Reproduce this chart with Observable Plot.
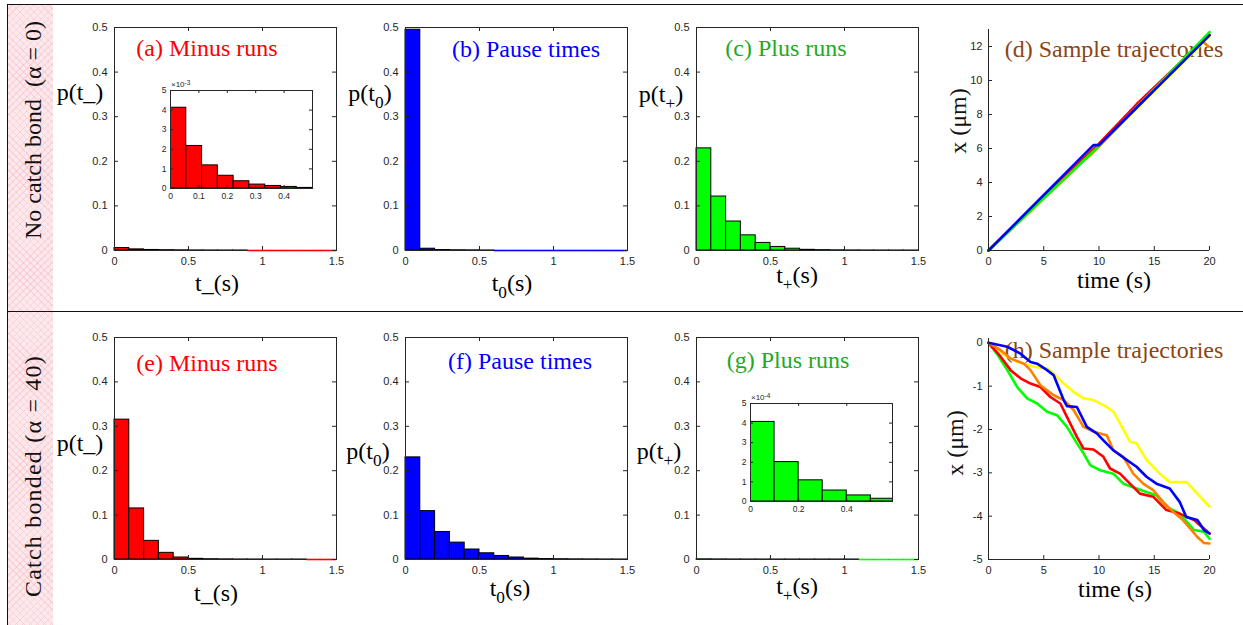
<!DOCTYPE html>
<html><head><meta charset="utf-8">
<script src="https://cdn.jsdelivr.net/npm/d3@7"></script>
<script src="https://cdn.jsdelivr.net/npm/@observablehq/plot@0.6"></script>
<style>
body{margin:0;background:#fff;}
#fig{position:relative;width:1243px;height:625px;overflow:hidden;background:#fff;font-family:"Liberation Serif","Times New Roman",serif;}
.lbl{position:absolute;transform:translate(-50%,-50%);white-space:pre;font-size:24px;line-height:1;color:#000;}
.sub{font-size:0.72em;position:relative;top:0.38em;line-height:0;}
.rot{position:absolute;transform:translate(-50%,-50%) rotate(-90deg);white-space:pre;font-size:24px;line-height:1;color:#111;}
.exp{position:absolute;font-family:"Liberation Sans",Arial,sans-serif;font-size:8px;color:#262626;line-height:1;white-space:pre;}
.exp sup{font-size:0.8em;position:relative;top:-0.35em;vertical-align:baseline;}
</style></head><body><div id="fig"></div>
<script>
// ---------- data ----------
const binStarts = [0,0.1,0.2,0.3,0.4,0.5,0.6,0.7,0.8,0.9,1.0,1.1,1.2,1.3,1.4];
const binWidth = 0.1;
const histXTicks = [0,0.5,1,1.5];
const histYTicks = [0,0.1,0.2,0.3,0.4,0.5];
// row 1: no catch bond
const minusNoCatch = [0.0055,0.0025,0.0012,0.0007,0.0004,0.0002,0.0001,0.00005,0.00003,0,0,0,0,0,0];
const pauseNoCatch = [0.495,0.004,0.001,0.0005,0.0003,0.0001,0,0,0,0,0,0,0,0,0];
const plusNoCatch  = [0.229,0.121,0.065,0.034,0.017,0.008,0.004,0.0015,0.0008,0.0004,0.0002,0.0001,0.00005,0.00003,0.00001];
// row 2: catch bonded
const minusCatch = [0.315,0.115,0.042,0.015,0.0045,0.0015,0.0006,0.0003,0.0001,0.00005,0.00002,0.00001,0.00001,0,0];
const pauseCatch = [0.23,0.109,0.062,0.038,0.0225,0.014,0.008,0.0045,0.002,0.001,0.0006,0.0003,0.0002,0.0001,0.00005];
const plusCatch  = [0.000406,0.000201,0.000108,0.000056,0.000031,0.000014,0.000007,0.000003,0.000002,0.000001,0.0000005,0,0,0,0];
// insets
const insetMinusStarts = [0,0.0556,0.1111,0.1667,0.2222,0.2778,0.3333,0.3889,0.4444];
const insetMinusWidth = 0.0556;
const insetMinusValues = [4.12,2.17,1.18,0.65,0.37,0.2,0.13,0.08,0.03]; // x10^-3
const insetMinusXTicks = [0,0.1,0.2,0.3,0.4];
const insetPlusStarts = [0,0.1,0.2,0.3,0.4,0.5];
const insetPlusValues = [4.06,2.01,1.08,0.56,0.31,0.14]; // x10^-4
const insetPlusXTicks = [0,0.2,0.4];
const insetYTicks = [0,1,2,3,4,5];
// trajectories (time s, x um)
const dYellow = [[0,0],[9.3,5.85],[9.7,5.95],[20,12.6]];
const dOrange = [[0,0],[8.9,5.45],[9.3,5.65],[13.5,8.45],[19.3,12.35],[19.9,12.0]];
const dRed    = [[0,0],[9.8,6.15],[13.4,8.6],[20,12.7]];
const dGreen  = [[0,0],[10,6.15],[20,12.85]];
const dBlue   = [[0,0],[9.5,6.2],[10,6.2],[20,12.65]];
const hBlue = [[0,0],[1.7,-0.09],[2.9,-0.25],[3.8,-0.44],[4.4,-0.48],[5.3,-0.63],[5.9,-0.75],[6.8,-1.32],[7.1,-1.46],[8,-1.48],[8.9,-1.94],[9.8,-2.09],[10.4,-2.25],[11.3,-2.48],[12.5,-2.7],[13.4,-2.86],[14.3,-3.09],[15.2,-3.25],[16.4,-3.36],[17.3,-3.67],[17.9,-4.02],[18.9,-4.09],[19.5,-4.32],[20,-4.4]];
const hYellow = [[0,0],[1.7,-0.32],[2.6,-0.44],[4.1,-0.55],[5.3,-0.59],[5.9,-0.71],[6.8,-0.94],[7.7,-1.13],[8.6,-1.28],[9.5,-1.32],[10.7,-1.48],[11.3,-1.59],[11.9,-1.86],[12.8,-2.28],[13.4,-2.32],[14.3,-2.7],[15.5,-3.02],[16.4,-3.21],[17.9,-3.21],[18.9,-3.48],[20,-3.78]];
const hOrange = [[0,0],[1.1,-0.17],[2,-0.36],[3.2,-0.48],[3.8,-0.63],[4.7,-0.98],[5.9,-1.21],[6.8,-1.32],[7.7,-1.55],[8.6,-1.94],[9.5,-2.05],[10.7,-2.13],[11.3,-2.48],[12.2,-2.63],[13.1,-3.02],[14,-3.25],[14.9,-3.4],[15.8,-3.67],[16.7,-3.9],[17.6,-4.09],[18.9,-4.48],[19.5,-4.62],[20,-4.63]];
const hRed = [[0,0],[1.1,-0.32],[2,-0.63],[2.9,-0.82],[3.8,-0.94],[4.7,-1.02],[5.6,-1.25],[6.5,-1.4],[7.1,-1.71],[8,-2.17],[8.6,-2.44],[9.5,-2.46],[10.4,-2.63],[11,-2.9],[11.9,-3.02],[12.8,-3.25],[13.7,-3.48],[14.9,-3.55],[16.1,-3.86],[17.3,-3.94],[18.6,-4.09],[20,-4.4]];
const hGreen = [[0,0],[0.75,-0.25],[1.7,-0.63],[2.6,-1.02],[3.5,-1.28],[4.4,-1.4],[5.3,-1.59],[6.2,-1.67],[7.1,-1.94],[8,-2.32],[8.6,-2.55],[9.2,-2.82],[10.1,-2.94],[11.3,-3.02],[12.2,-3.25],[13.4,-3.36],[14.3,-3.44],[15.2,-3.52],[16.1,-3.78],[17.3,-3.94],[18.6,-4.32],[19.5,-4.36],[20,-4.52]];
const trajXTicks = [0,5,10,15,20];
const dYTicks = [0,2,4,6,8,10,12];
const hYTicks = [-5,-4,-3,-2,-1,0];

// ---------- styles ----------
const RED="#ff0000", BLUE="#0000ff", GREEN="#00ff00", ORANGE="#ff8000", YELLOW="#ffff00";
const axisCol = "#262626";
const fig = document.getElementById("fig");
const fmt = d => String(d);

function el(html, cls, x, y) {
  const d = document.createElement("div");
  d.className = cls; d.innerHTML = html;
  d.style.left = x + "px"; d.style.top = y + "px";
  fig.appendChild(d); return d;
}
function place(svg, x, y) {
  svg.style.position = "absolute"; svg.style.left = x + "px"; svg.style.top = y + "px";
  fig.appendChild(svg);
}
function inTicks(xt, yt, W, H, box, len) {
  const m = [
    Plot.tickX(xt, {x: d => d, insetTop: H - len, stroke: axisCol}),
    Plot.tickY(yt, {y: d => d, insetRight: W - len, stroke: axisCol})
  ];
  if (box) m.push(
    Plot.tickX(xt, {x: d => d, insetBottom: H - len, stroke: axisCol}),
    Plot.tickY(yt, {y: d => d, insetLeft: W - len, stroke: axisCol})
  );
  return m;
}
function bins(starts, width, values) {
  return starts.map((s, i) => ({s, e: s + width, v: values[i]}));
}
const baseStyle = {fontFamily: "'Liberation Sans', Arial, sans-serif", fontSize: "11px", color: axisCol, background: "transparent", overflow: "visible"};

function histPanel(values, color, fl, ft, fr, fb) {
  const mL = 40, mR = 8, mT = 8, mB = 26;
  const W = fr - fl, H = fb - ft;
  const data = bins(binStarts, binWidth, values);
  const p = Plot.plot({
    width: W + mL + mR, height: H + mT + mB,
    marginLeft: mL, marginRight: mR, marginTop: mT, marginBottom: mB,
    x: {domain: [0, 1.5], ticks: histXTicks, tickFormat: fmt, tickSize: 0, tickPadding: 7, label: null},
    y: {domain: [0, 0.5], ticks: histYTicks, tickFormat: fmt, tickSize: 0, tickPadding: 7, label: null},
    style: baseStyle,
    marks: [
      Plot.rect(data, {filter: d => d.v > 0, x1: "s", x2: "e", y1: () => 0, y2: "v", fill: color, stroke: "black", strokeWidth: 1}),
      Plot.frame({stroke: axisCol}),
      Plot.ruleY(data, {filter: d => d.v === 0, x1: "s", x2: "e", y: () => 0, stroke: color, strokeWidth: 1.6}),
      ...inTicks(histXTicks, histYTicks, W, H, true, 4)
    ]
  });
  place(p, fl - mL, ft - mT);
}
function insetPanel(starts, width, values, color, xdom, xticks, fl, ft, fr, fb) {
  const mL = 16, mR = 4, mT = 10, mB = 16;
  const W = fr - fl, H = fb - ft;
  const data = bins(starts, width, values);
  const p = Plot.plot({
    width: W + mL + mR, height: H + mT + mB,
    marginLeft: mL, marginRight: mR, marginTop: mT, marginBottom: mB,
    x: {domain: xdom, ticks: xticks, tickFormat: fmt, tickSize: 0, tickPadding: 4, label: null},
    y: {domain: [0, 5], ticks: insetYTicks, tickFormat: fmt, tickSize: 0, tickPadding: 4, label: null},
    style: {...baseStyle, fontSize: "8.5px"},
    marks: [
      Plot.frame({fill: "white"}),
      Plot.rect(data, {x1: "s", x2: "e", y1: () => 0, y2: "v", fill: color, stroke: "black", strokeWidth: 1, clip: true}),
      Plot.frame({stroke: axisCol}),
      ...inTicks(xticks, insetYTicks, W, H, true, 3)
    ]
  });
  place(p, fl - mL, ft - mT);
}
function trajPanel(lines, ydom, yticks, fl, ft, fr, fb) {
  const mL = 34, mR = 8, mT = 8, mB = 26;
  const W = fr - fl, H = fb - ft;
  const p = Plot.plot({
    width: W + mL + mR, height: H + mT + mB,
    marginLeft: mL, marginRight: mR, marginTop: mT, marginBottom: mB,
    x: {domain: [0, 20], ticks: trajXTicks, tickFormat: fmt, tickSize: 0, tickPadding: 7, label: null},
    y: {domain: ydom, ticks: yticks, tickFormat: fmt, tickSize: 0, tickPadding: 6, label: null},
    style: baseStyle,
    marks: [
      ...lines.map(([pts, c]) => Plot.line(pts, {x: d => d[0], y: d => d[1], stroke: c, strokeWidth: 2.6, strokeLinejoin: "round"})),
      Plot.ruleX([0], {stroke: axisCol}),
      Plot.ruleY([ydom[0]], {stroke: axisCol}),
      ...inTicks(trajXTicks, yticks, W, H, false, 4)
    ]
  });
  place(p, fl - mL, ft - mT);
}

// ---------- frame / strip ----------
const strip = document.createElement("div");
Object.assign(strip.style, {position: "absolute", left: "8px", top: "5px", width: "45px", height: "625px",
  background: "repeating-linear-gradient(45deg, rgba(240,160,175,0.28) 0 1px, transparent 1px 5px), repeating-linear-gradient(-45deg, rgba(240,160,175,0.28) 0 1px, transparent 1px 5px), #fde8eb"});
fig.appendChild(strip);
const border = document.createElement("div");
Object.assign(border.style, {position: "absolute", left: "7px", top: "4px", width: "1250px", height: "700px", borderLeft: "1.5px solid #111", borderTop: "1.5px solid #111"});
fig.appendChild(border);
const divider = document.createElement("div");
Object.assign(divider.style, {position: "absolute", left: "7px", top: "311px", width: "1250px", height: "0", borderTop: "1.5px solid #111"});
fig.appendChild(divider);

el("No catch bond  (α = 0)", "rot", 33, 130);
el("Catch bonded (α = 40)", "rot", 33, 476).style.letterSpacing = "1.2px";

// ---------- row 1 ----------
histPanel(minusNoCatch, RED, 114, 27, 336, 250);
histPanel(pauseNoCatch, BLUE, 405, 27, 627, 250);
histPanel(plusNoCatch, GREEN, 696, 27, 918, 250);
el("(d) Sample trajectories", "lbl", 1114, 49).style.color = "#8b4513";
trajPanel([[dYellow, YELLOW], [dOrange, ORANGE], [dRed, RED], [dGreen, GREEN], [dBlue, BLUE]], [0, 13], dYTicks, 988, 29, 1209, 250);
insetPanel(insetMinusStarts, insetMinusWidth, insetMinusValues, RED, [0, 0.5], insetMinusXTicks, 170, 90, 312, 188);
el("×10<sup>-3</sup>", "exp", 171, 81);

// ---------- row 2 ----------
histPanel(minusCatch, RED, 114, 337, 336, 559);
histPanel(pauseCatch, BLUE, 405, 337, 627, 559);
histPanel(plusCatch, GREEN, 696, 337, 918, 559);
el("(h) Sample trajectories", "lbl", 1114, 350).style.color = "#8b4513";
trajPanel([[hYellow, YELLOW], [hGreen, GREEN], [hRed, RED], [hOrange, ORANGE], [hBlue, BLUE]], [-5, 0.1], hYTicks, 988, 338, 1209, 559);
insetPanel(insetPlusStarts, 0.1, insetPlusValues, GREEN, [0, 0.59], insetPlusXTicks, 750, 403, 892, 501);
el("×10<sup>-4</sup>", "exp", 751, 394);

// ---------- titles ----------
el("(a) Minus runs", "lbl", 207, 48).style.color = RED;
el("(b) Pause times", "lbl", 526, 49).style.color = BLUE;
el("(c) Plus runs", "lbl", 786, 48).style.color = "#1faa1f";
el("(e) Minus runs", "lbl", 207, 363).style.color = RED;
el("(f) Pause times", "lbl", 520, 361).style.color = BLUE;
el("(g) Plus runs", "lbl", 788, 360).style.color = "#1faa1f";

// ---------- axis labels ----------
el("p(t_)", "lbl", 80, 92);
el("p(t<span class='sub'>0</span>)", "lbl", 370, 93);
el("p(t<span class='sub'>+</span>)", "lbl", 661, 94);
el("p(t_)", "lbl", 80, 443);
el("p(t<span class='sub'>0</span>)", "lbl", 368, 451);
el("p(t<span class='sub'>+</span>)", "lbl", 659, 451);
el("t_(s)", "lbl", 217, 283);
el("t<span class='sub'>0</span>(s)", "lbl", 512, 283);
el("t<span class='sub'>+</span>(s)", "lbl", 797, 275);
el("time (s)", "lbl", 1114, 280);
el("x (μm)", "rot", 958, 121);
el("t_(s)", "lbl", 216, 593);
el("t<span class='sub'>0</span>(s)", "lbl", 510, 588);
el("t<span class='sub'>+</span>(s)", "lbl", 797, 586);
el("time (s)", "lbl", 1115, 589);
el("x (μm)", "rot", 955, 443);
</script></body></html>
